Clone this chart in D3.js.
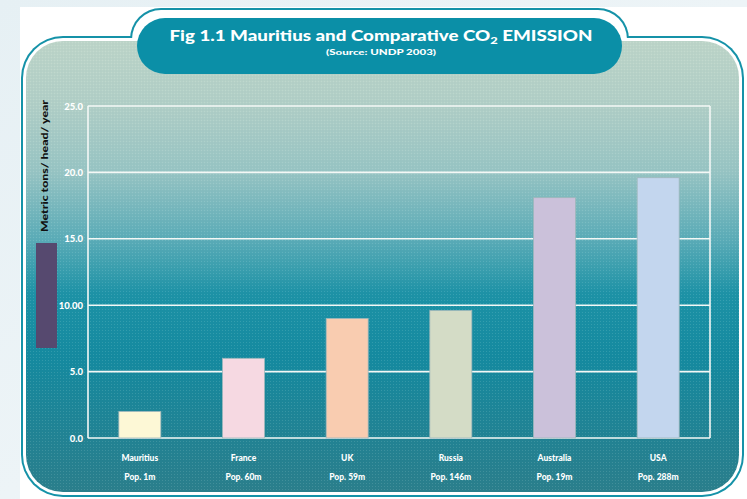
<!DOCTYPE html>
<html>
<head>
<meta charset="utf-8">
<script src="https://cdn.jsdelivr.net/npm/d3@7"></script>
<style>
  html, body { margin: 0; padding: 0; background: #e9f2f5; }
  svg { display: block; }
</style>
</head>
<body>
<svg id="chart" width="747" height="499"></svg>
<script>
// CO2 emissions per head, metric tons per year
const countries = ["Mauritius", "France", "UK", "Russia", "Australia", "USA"];
const populations = ["Pop. 1m", "Pop. 60m", "Pop. 59m", "Pop. 146m", "Pop. 19m", "Pop. 288m"];
const emissions = [2.0, 6.0, 9.0, 9.6, 18.1, 19.6];
const barColors = ["#fdf8d6", "#f6d9e2", "#f9ccb0", "#d4dcc6", "#cbc1da", "#c3d6ee"];
const tickValues = [0, 5, 10, 15, 20, 25];
const tickLabels = ["0.0", "5.0", "10.00", "15.0", "20.0", "25.0"];

const W = 747, H = 499;
const svg = d3.select("#chart");
const defs = svg.append("defs");

// background wash on the page edges
const bgGrad = defs.append("linearGradient").attr("id", "pageGrad")
  .attr("x1", 0).attr("y1", 0).attr("x2", 1).attr("y2", 1);
bgGrad.append("stop").attr("offset", 0).attr("stop-color", "#e6f0f4");
bgGrad.append("stop").attr("offset", 1).attr("stop-color", "#f4f8fa");
svg.append("rect").attr("width", W).attr("height", H).attr("fill", "url(#pageGrad)");
svg.append("rect").attr("x", 20).attr("y", 7).attr("width", W - 20).attr("height", H - 7).attr("fill", "#ffffff");

// panel gradient: pale sage at the top fading into teal
const panelGrad = defs.append("linearGradient").attr("id", "panelGrad")
  .attr("gradientUnits", "userSpaceOnUse")
  .attr("x1", 0).attr("y1", 41).attr("x2", 0).attr("y2", 493);
[
  [0.00, "#bdd5c8"],
  [0.14, "#b1cfc6"],
  [0.29, "#97c4c3"],
  [0.44, "#5aacb7"],
  [0.56, "#1c92a6"],
  [0.70, "#148a9f"],
  [1.00, "#2a7e8b"]
].forEach(([o, c]) => panelGrad.append("stop").attr("offset", o).attr("stop-color", c));

// fine dot screen over the panel
const dots = defs.append("pattern").attr("id", "dots")
  .attr("patternUnits", "userSpaceOnUse").attr("width", 3).attr("height", 3);
dots.append("rect").attr("x", 0).attr("y", 0).attr("width", 1).attr("height", 1).attr("fill", "#ffffff").attr("opacity", 0.12);
dots.append("rect").attr("x", 1.5).attr("y", 1.5).attr("width", 1).attr("height", 1).attr("fill", "#3b6f80").attr("opacity", 0.10);

// frame: teal outline, white gap, then gradient panel
const main = {x: 21, y: 36, w: 723, h: 461, r: 42};
const tab = {x: 130, y: 8, w: 499, h: 62, r: 31};
function rr(g, b, inset, fill) {
  g.append("rect")
    .attr("x", b.x + inset).attr("y", b.y + inset)
    .attr("width", b.w - 2 * inset).attr("height", b.h - 2 * inset)
    .attr("rx", Math.max(0, b.r - inset)).attr("fill", fill);
}
const frame = svg.append("g");
rr(frame, main, 0, "#1592a8");
rr(frame, tab, 0, "#1592a8");
rr(frame, main, 2, "#ffffff");
rr(frame, tab, 2, "#ffffff");
rr(frame, main, 5, "url(#panelGrad)");
rr(frame, main, 5, "url(#dots)");

// title tab
frame.append("rect").attr("x", 137).attr("y", 18).attr("width", 485).attr("height", 56)
  .attr("rx", 28).attr("fill", "#0b8fa7");

const title = svg.append("text")
  .attr("x", 381).attr("y", 41)
  .attr("text-anchor", "middle")
  .attr("font-family", "Lato, 'Open Sans', sans-serif")
  .attr("font-weight", 900).attr("font-size", 14.5)
  .attr("fill", "#ffffff")
  .attr("textLength", 423).attr("lengthAdjust", "spacingAndGlyphs");
title.append("tspan").text("Fig 1.1 Mauritius and Comparative CO");
title.append("tspan").attr("dy", 3).attr("font-size", 10).text("2");
title.append("tspan").attr("dy", -3).text(" EMISSION");

svg.append("text")
  .attr("x", 381).attr("y", 55)
  .attr("text-anchor", "middle")
  .attr("font-family", "Lato, 'Open Sans', sans-serif")
  .attr("font-weight", 900).attr("font-size", 8)
  .attr("fill", "#ffffff")
  .attr("textLength", 110).attr("lengthAdjust", "spacingAndGlyphs")
  .text("(Source: UNDP 2003)");

// scales
const plot = {left: 88, right: 710, top: 106, bottom: 438};
const x = d3.scaleBand().domain(countries)
  .range([plot.left, plot.right]).paddingInner(0.595).paddingOuter(0.2975);
const y = d3.scaleLinear().domain([0, 25]).range([plot.bottom, plot.top]);

// grid lines and box
const grid = svg.append("g");
grid.selectAll("line.h").data(tickValues).join("line")
  .attr("x1", plot.left).attr("x2", plot.right)
  .attr("y1", d => y(d)).attr("y2", d => y(d))
  .attr("stroke", "#f4f8f6").attr("stroke-width", 1.6);
grid.selectAll("line.v").data([plot.left, plot.right]).join("line")
  .attr("x1", d => d).attr("x2", d => d)
  .attr("y1", plot.top).attr("y2", plot.bottom)
  .attr("stroke", "#f4f8f6").attr("stroke-width", 1.6);

// y tick labels
const yAxis = d3.axisLeft(y).tickValues(tickValues)
  .tickFormat((d, i) => tickLabels[i]).tickSize(0).tickPadding(5);
const yg = svg.append("g").attr("transform", `translate(${plot.left},0)`).call(yAxis);
yg.select(".domain").remove();
yg.selectAll("text")
  .attr("fill", "#ffffff")
  .attr("font-family", "Lato, 'Open Sans', sans-serif")
  .attr("font-weight", 900).attr("font-size", 9.5);

// bars
svg.append("g").selectAll("rect").data(countries).join("rect")
  .attr("x", d => x(d))
  .attr("y", (d, i) => y(emissions[i]))
  .attr("width", x.bandwidth())
  .attr("height", (d, i) => y(0) - y(emissions[i]))
  .attr("fill", (d, i) => barColors[i])
  .attr("stroke", "#9fb7bb").attr("stroke-width", 0.8);

// x category labels
const xAxis = d3.axisBottom(x).tickSize(0).tickPadding(0);
const xg = svg.append("g").attr("transform", `translate(0,${plot.bottom})`).call(xAxis);
xg.select(".domain").remove();
xg.selectAll("text").remove();
xg.selectAll(".tick").append("text")
  .attr("text-anchor", "middle")
  .attr("fill", "#ffffff")
  .attr("font-family", "Lato, 'Open Sans', sans-serif")
  .attr("font-weight", 900).attr("font-size", 8.5)
  .each(function (d, i) {
    const t = d3.select(this);
    t.append("tspan").attr("x", 0).attr("y", 23).text(d);
    t.append("tspan").attr("x", 0).attr("y", 42).text(populations[i]);
  });

// y axis title and colour key
svg.append("text")
  .attr("transform", "translate(48,166) rotate(-90)")
  .attr("text-anchor", "middle")
  .attr("font-family", "Lato, 'Open Sans', sans-serif")
  .attr("font-weight", 900).attr("font-size", 9)
  .attr("fill", "#111111")
  .attr("textLength", 132).attr("lengthAdjust", "spacingAndGlyphs")
  .text("Metric tons/ head/ year");

svg.append("rect").attr("x", 36).attr("y", 243).attr("width", 21).attr("height", 105)
  .attr("fill", "#56496f");
</script>
</body>
</html>
